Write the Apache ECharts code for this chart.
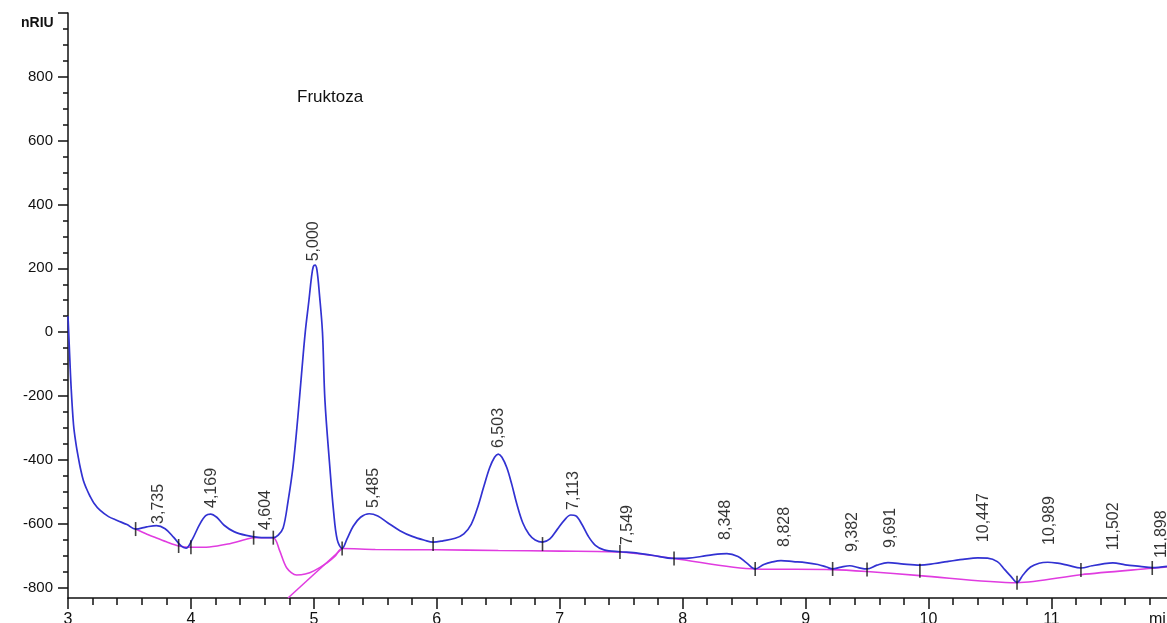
<!DOCTYPE html>
<html>
<head>
<meta charset="utf-8">
<script src="https://cdn.jsdelivr.net/npm/echarts@6/dist/echarts.min.js"></script>
<style>
html,body{margin:0;padding:0;background:#fff;}
#chart{width:1167px;height:623px;}
</style>
</head>
<body>
<div id="chart"></div>
<script>
// ---- data ----
var traceTime = [3.000,3.010,3.025,3.045,3.065,3.085,3.10,3.125,3.15,3.18,3.21,3.26,3.33,3.40,3.48,3.55,3.64,3.72,3.79,3.86,3.92,3.96,4.01,4.07,4.12,4.16,4.21,4.27,4.35,4.45,4.55,4.67,4.71,4.75,4.79,4.83,4.87,4.90,4.93,4.96,4.98,4.995,5.01,5.025,5.045,5.07,5.09,5.13,5.16,5.19,5.23,5.27,5.32,5.38,5.45,5.52,5.60,5.70,5.80,5.90,5.97,6.05,6.15,6.22,6.28,6.33,6.38,6.43,6.47,6.50,6.53,6.57,6.61,6.65,6.70,6.75,6.80,6.86,6.92,6.98,7.04,7.09,7.13,7.18,7.23,7.29,7.36,7.49,7.60,7.75,7.93,8.05,8.15,8.25,8.36,8.45,8.52,8.59,8.66,8.73,8.80,8.90,9.00,9.10,9.17,9.22,9.29,9.36,9.43,9.50,9.58,9.67,9.80,9.93,10.05,10.15,10.28,10.40,10.48,10.56,10.62,10.67,10.72,10.77,10.83,10.90,10.97,11.05,11.13,11.24,11.33,11.42,11.50,11.60,11.72,11.82,11.94];
var traceValue = [50,-40,-170,-290,-350,-395,-425,-465,-490,-515,-535,-558,-578,-590,-603,-617,-610,-606,-616,-643,-670,-677,-650,-603,-575,-570,-580,-605,-625,-637,-643,-644,-636,-614,-530,-423,-265,-130,0,100,170,205,210,195,120,0,-213,-423,-560,-650,-678,-648,-608,-580,-569,-576,-597,-622,-640,-652,-658,-654,-646,-632,-602,-552,-487,-425,-392,-382,-392,-425,-477,-537,-598,-633,-651,-658,-648,-618,-588,-573,-575,-602,-638,-668,-682,-688,-691,-699,-709,-708,-703,-697,-694,-703,-723,-742,-728,-720,-716,-719,-722,-728,-736,-742,-736,-732,-738,-742,-730,-722,-727,-730,-725,-719,-712,-707,-708,-719,-744,-765,-784,-760,-736,-724,-721,-724,-730,-739,-732,-726,-723,-729,-734,-738,-734];

var baseTime = [3.55,3.63,3.70,3.80,3.90,4.00,4.15,4.30,4.45,4.51,4.67,4.72,4.78,4.86,4.93,5.00,5.11,5.17,5.23,5.50,6.00,6.50,7.00,7.49,7.93,8.59,9.22,9.50,9.93,10.72,11.24,11.82,11.94];
var baseValue = [-617,-631,-642,-657,-670,-674,-673,-664,-649,-644,-644,-683,-739,-761,-758,-748,-722,-703,-678,-681,-682,-684,-686,-689,-709,-742,-744,-750,-763,-785,-760,-740,-736];

var tangentTime = [4.79,5.23];
var tangentValue = [-833,-678];

var markTime = [3.55,3.90,4.00,4.51,4.67,5.23,5.97,6.86,7.49,7.93,8.59,9.22,9.50,9.93,10.72,11.24,11.82];
var markValue = [-617,-670,-674,-644,-644,-678,-664,-664,-689,-709,-742,-742,-744,-748,-785,-745,-739];

var peakTime = [3.735,4.169,4.604,5.000,5.485,6.503,7.113,7.549,8.348,8.828,9.382,9.691,10.447,10.989,11.502,11.898];
var peakLabelLevel = [-601,-551,-620,222,-551,-363,-557,-667,-651,-673,-689,-676,-658,-667,-683,-708];

var yLabelValues = [-800,-600,-400,-200,0,200,400,600,800];
var yMajorTicks = [-800,-600,-400,-200,0,200,400,600,800,1000];
var xLabelValues = [3,4,5,6,7,8,9,10,11];

var yMinorTicks = [];
for (var v = -750; v <= 950; v += 50) { if (v % 200 !== 0) yMinorTicks.push(v); }
var xMinorTicks = [];
for (var i = 16; i <= 59; i++) { if (i % 5 !== 0) xMinorTicks.push(i / 5); }

function pairs(a, b) { return a.map(function (t, k) { return [t, b[k]]; }); }

var FONT = '"Liberation Sans", Arial, sans-serif';
var XMIN = 3, XMAX = 11.94, YMIN = -833, YMAX = 1000;

var chart = echarts.init(document.getElementById('chart'), null, {renderer: 'canvas'});
chart.setOption({
  animation: false,
  backgroundColor: '#ffffff',
  grid: {left: 68, right: 0, top: 13, bottom: 25, containLabel: false, outerBoundsMode: 'none'},
  xAxis: [{
    type: 'value', min: XMIN, max: XMAX, position: 'bottom',
    axisLine: {show: true, onZero: false, lineStyle: {color: '#111', width: 1.5}},
    axisTick: {show: true, customValues: xLabelValues, length: 11, lineStyle: {color: '#111', width: 1.5}},
    axisLabel: {show: true, customValues: xLabelValues, margin: 14, color: '#111', fontSize: 16, fontFamily: FONT},
    splitLine: {show: false}
  }, {
    type: 'value', min: XMIN, max: XMAX, position: 'bottom',
    axisLine: {show: false, onZero: false},
    axisTick: {show: true, customValues: xMinorTicks, length: 7, lineStyle: {color: '#111', width: 1.5}},
    axisLabel: {show: false},
    splitLine: {show: false}
  }],
  yAxis: [{
    type: 'value', min: YMIN, max: YMAX, position: 'left',
    axisLine: {show: true, onZero: false, lineStyle: {color: '#111', width: 1.5}},
    axisTick: {show: true, customValues: yMajorTicks, length: 10, lineStyle: {color: '#111', width: 1.5}},
    axisLabel: {show: true, customValues: yLabelValues, margin: 15, color: '#111', fontSize: 15, fontFamily: FONT},
    splitLine: {show: false}
  }, {
    type: 'value', min: YMIN, max: YMAX, position: 'left',
    axisLine: {show: false, onZero: false},
    axisTick: {show: true, customValues: yMinorTicks, length: 5, lineStyle: {color: '#111', width: 1.5}},
    axisLabel: {show: false},
    splitLine: {show: false}
  }],
  graphic: [
    {type: 'text', left: 297, top: 89, style: {text: 'Fruktoza', font: '17px ' + FONT, fill: '#111'}},
    {type: 'text', left: 21, top: 16, style: {text: 'nRIU', font: 'bold 14px ' + FONT, fill: '#111'}},
    {type: 'text', left: 1149, top: 612, style: {text: 'min', font: '16px ' + FONT, fill: '#111'}}
  ],
  series: [{
    type: 'line', name: 'baseline', xAxisIndex: 0, yAxisIndex: 0,
    data: pairs(baseTime, baseValue), showSymbol: false, smooth: 0.3,
    lineStyle: {color: '#e03ce0', width: 1.6}, z: 2
  }, {
    type: 'line', name: 'tangent', xAxisIndex: 0, yAxisIndex: 0,
    data: pairs(tangentTime, tangentValue), showSymbol: false,
    lineStyle: {color: '#e03ce0', width: 1.6}, z: 2
  }, {
    type: 'line', name: 'signal', xAxisIndex: 0, yAxisIndex: 0,
    data: pairs(traceTime, traceValue), showSymbol: false, smooth: 0.35,
    lineStyle: {color: '#3232d2', width: 1.7}, z: 3
  }, {
    type: 'scatter', name: 'marks', xAxisIndex: 0, yAxisIndex: 0,
    data: pairs(markTime, markValue), symbol: 'rect', symbolSize: [1.6, 14],
    itemStyle: {color: '#111'}, z: 4
  }, {
    type: 'scatter', name: 'labels', xAxisIndex: 0, yAxisIndex: 0,
    data: pairs(peakTime, peakLabelLevel), symbolSize: 1,
    itemStyle: {color: 'rgba(0,0,0,0)'}, z: 5,
    label: {
      show: true, position: 'inside', rotate: 90, align: 'left', verticalAlign: 'middle',
      fontSize: 16, fontFamily: FONT, color: '#000',
      formatter: function (p) { return p.value[0].toFixed(3).replace('.', ','); }
    }
  }]
});
</script>
</body>
</html>
